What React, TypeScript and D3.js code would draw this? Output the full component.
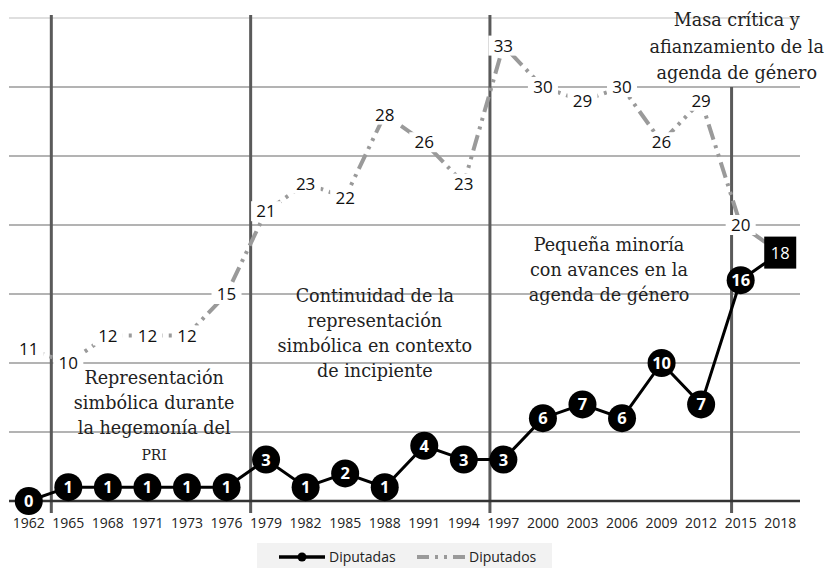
import React from 'react';
import * as d3 from 'd3';

const years = ['1962','1965','1968','1971','1973','1976','1979','1982','1985','1988','1991','1994','1997','2000','2003','2006','2009','2012','2015','2018'];
const diputadas = [0,1,1,1,1,1,3,1,2,1,4,3,3,6,7,6,10,7,16,18];
const diputados = [11,10,12,12,12,15,21,23,22,28,26,23,33,30,29,30,26,29,20,18];
const yTicks = [0,5,10,15,20,25,30,35];
// period separators, expressed in year-slot units from the left edge of the plot
const periodBreaks = [1.07, 6.11, 12.16, 18.27];
const periodBreakTops = [35, 35, 35, 30];
const annotations = [
  { slot: 3.67, value: 8.9, lines: ['Representación', 'simbólica durante', 'la hegemonía del'], extra: 'PRI' },
  { slot: 9.25, value: 14.85, lines: ['Continuidad de la', 'representación', 'simbólica en contexto', 'de incipiente'], extra: '' },
  { slot: 15.17, value: 18.55, lines: ['Pequeña minoría', 'con avances en la', 'agenda de género'], extra: '' },
  { slot: 18.4, value: 34.85, lines: ['Masa crítica y', 'afianzamiento de la', 'agenda de género'], extra: '' },
];
const legendItems = ['Diputadas', 'Diputados'];

const W = 829, H = 568;
const sans = "'Open Sans', 'Noto Sans', sans-serif";
const serif = "'DejaVu Serif', serif";

export default function App() {
  const x = d3.scaleBand<string>().domain(years).range([9, 800]).paddingInner(0).paddingOuter(0);
  const step = x.step();
  const cx = (i: number) => (x(years[i]) as number) + step / 2;
  const y = d3.scaleLinear().domain([0, 35]).range([501, 18]);
  const slotX = (k: number) => 9 + step * k;

  const lineGen = d3.line<number>().x((_, i) => cx(i)).y((d) => y(d));
  const dash = '16 6 3 6 3 6';

  return (
    <svg width={W} height={H} style={{ position: 'absolute', left: 0, top: 0, background: '#fff' }}>
      {yTicks.filter((t) => t > 0).map((t) => (
        <line key={t} x1={9} x2={800} y1={y(t)} y2={y(t)} stroke={t === 35 ? '#d4d4d4' : '#9a9a9a'} strokeWidth={1.5} />
      ))}
      {periodBreaks.map((k, i) => (
        <line key={i} x1={slotX(k)} x2={slotX(k)} y1={y(periodBreakTops[i]) - (i < 3 ? 3 : 0)} y2={513} stroke="#5a5a5a" strokeWidth={3} />
      ))}
      {annotations.map((a, i) => {
        const ax = slotX(a.slot);
        const ay = y(a.value);
        const lh = i === 3 ? 26.5 : 25;
        return (
          <g key={i} fontFamily={serif} fontSize={17.6} fill="#222" textAnchor="middle">
            {a.lines.map((l, j) => (
              <text key={j} x={ax} y={ay + j * lh} dy="0.35em">{l}</text>
            ))}
            {a.extra && (
              <text x={ax} y={ay + a.lines.length * lh + 2} dy="0.35em" fontSize={14}>{a.extra}</text>
            )}
          </g>
        );
      })}
      <line x1={9} x2={800} y1={y(0)} y2={y(0)} stroke="#333" strokeWidth={2.5} />
      <path d={lineGen(diputados) || ''} fill="none" stroke="#9a9a9a" strokeWidth={4} strokeDasharray={dash} />
      {diputados.map((v, i) => i === diputados.length - 1 ? null : (
        <g key={i}>
          <rect x={cx(i) - 15} y={y(v) - 10} width={30} height={20} fill="#fff" />
          <text x={cx(i)} y={y(v)} dy="0.36em" textAnchor="middle" fontFamily={sans} fontSize={17} fill="#111">{v}</text>
        </g>
      ))}
      <path d={lineGen(diputadas) || ''} fill="none" stroke="#000" strokeWidth={3} />
      {diputadas.map((v, i) => (
        <g key={i}>
          {i === diputadas.length - 1 ? (
            <rect x={cx(i) - 16} y={y(v) - 16} width={32} height={32} fill="#000" />
          ) : (
            <circle cx={cx(i)} cy={y(v)} r={14} fill="#000" />
          )}
          <text x={cx(i)} y={y(v)} dy="0.36em" textAnchor="middle" fontFamily={sans} fontWeight={i === diputadas.length - 1 ? 400 : 700} fontSize={16.5} fill="#fff">{v}</text>
        </g>
      ))}
      {years.map((yr, i) => (
        <text key={yr} x={cx(i)} y={523} dy="0.35em" textAnchor="middle" fontFamily={sans} fontSize={14} fill="#222">{yr}</text>
      ))}
      <g>
        <rect x={257} y={543} width={295} height={25} fill="#f2f2f2" />
        <line x1={279} x2={325} y1={557} y2={557} stroke="#000" strokeWidth={3.5} />
        <circle cx={302} cy={557} r={4.5} fill="#000" />
        <text x={329} y={557} dy="0.35em" fontFamily={sans} fontSize={14} fill="#222">{legendItems[0]}</text>
        <line x1={417} x2={467} y1={557} y2={557} stroke="#9a9a9a" strokeWidth={4} strokeDasharray="12 6 3 6 3 6 12" />
        <text x={469} y={557} dy="0.35em" fontFamily={sans} fontSize={14} fill="#222">{legendItems[1]}</text>
      </g>
    </svg>
  );
}
